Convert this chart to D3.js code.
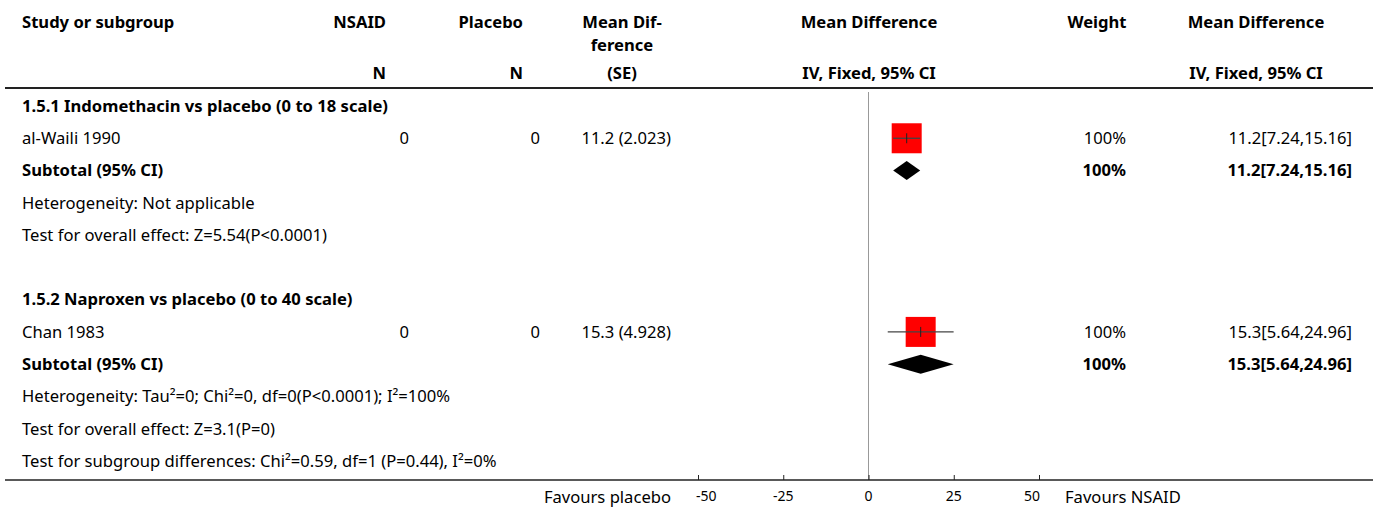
<!DOCTYPE html>
<html>
<head>
<meta charset="utf-8">
<script src="https://cdn.jsdelivr.net/npm/d3@7/dist/d3.min.js"></script>
<style>
  html, body { margin: 0; padding: 0; background: #fff; }
  svg text { font-family: "Source Sans Pro", "Noto Sans", sans-serif; font-size: 16.6px; fill: #000; }
  .b { font-weight: bold; }
  .tick-label { font-size: 14px; }
</style>
</head>
<body>
<svg id="chart" width="1373" height="510"></svg>
<script>
// Forest plot: NSAID vs placebo, mean difference (IV, fixed, 95% CI)
const subgroups = ["1.5.1 Indomethacin vs placebo (0 to 18 scale)", "1.5.2 Naproxen vs placebo (0 to 40 scale)"];
const studies = ["al-Waili 1990", "Chan 1983"];
const nNsaid = [0, 0];
const nPlacebo = [0, 0];
const meanDiff = [11.2, 15.3];
const stdErr = [2.023, 4.928];
const ciLow = [7.24, 5.64];
const ciHigh = [15.16, 24.96];
const weights = [100, 100];
const subtotalMean = [11.2, 15.3];
const subtotalLow = [7.24, 5.64];
const subtotalHigh = [15.16, 24.96];
const subtotalWeight = [100, 100];
const heterogeneity = ["Heterogeneity: Not applicable", "Heterogeneity: Tau\u00b2=0; Chi\u00b2=0, df=0(P<0.0001); I\u00b2=100%"];
const overallEffect = ["Test for overall effect: Z=5.54(P<0.0001)", "Test for overall effect: Z=3.1(P=0)"];
const subgroupTest = "Test for subgroup differences: Chi\u00b2=0.59, df=1 (P=0.44), I\u00b2=0%";
const axisTicks = [-50, -25, 0, 25, 50];

const svg = d3.select("#chart");
const W = 1373;

// effect scale and row scale
const x = d3.scaleLinear().domain([-50, 50]).range([698, 1039]);
const row = d3.scaleLinear().domain([0, 11]).range([106, 461]);

const col = { study: 22, nA: 409, nB: 540, md: 671, weight: 1126, ci: 1352 };

function txt(xp, yp, s, anchor, bold) {
  return svg.append("text")
    .attr("x", xp).attr("y", yp).attr("dy", "0.35em")
    .attr("text-anchor", anchor || "start")
    .classed("b", !!bold)
    .text(s);
}

// header
txt(22, 22, "Study or subgroup", "start", true);
txt(386, 22, "NSAID", "end", true);
txt(523, 22, "Placebo", "end", true);
txt(622, 22, "Mean Dif-", "middle", true);
txt(622, 45, "ference", "middle", true);
txt(869, 22, "Mean Difference", "middle", true);
txt(1097, 22, "Weight", "middle", true);
txt(1256, 22, "Mean Difference", "middle", true);
txt(386, 73, "N", "end", true);
txt(523, 73, "N", "end", true);
txt(622, 73, "(SE)", "middle", true);
txt(869, 73, "IV, Fixed, 95% CI", "middle", true);
txt(1256, 73, "IV, Fixed, 95% CI", "middle", true);

svg.append("line").attr("x1", 5).attr("x2", W).attr("y1", 88).attr("y2", 88)
  .attr("stroke", "#222").attr("stroke-width", 2);

// zero line
svg.append("line").attr("x1", x(0)).attr("x2", x(0)).attr("y1", 92).attr("y2", 480)
  .attr("stroke", "#999").attr("stroke-width", 1);

const fmtCI = (m, l, h) => `${m}[${l},${h}]`;

subgroups.forEach((g, i) => {
  const base = i * 6;
  txt(col.study, row(base), g, "start", true);
  // study row
  const ys = row(base + 1);
  txt(col.study, ys, studies[i]);
  txt(col.nA, ys, nNsaid[i], "end");
  txt(col.nB, ys, nPlacebo[i], "end");
  txt(col.md, ys, `${meanDiff[i]} (${stdErr[i].toFixed(3)})`, "end");
  txt(col.weight, ys, weights[i] + "%", "end");
  txt(col.ci, ys, fmtCI(meanDiff[i], ciLow[i], ciHigh[i]), "end");
  const box = 30 * Math.sqrt(weights[i] / 100);
  svg.append("rect")
    .attr("x", x(meanDiff[i]) - box / 2).attr("y", ys - box / 2)
    .attr("width", box).attr("height", box).attr("fill", "#ff0000");
  svg.append("line").attr("x1", x(ciLow[i])).attr("x2", x(ciHigh[i]))
    .attr("y1", ys).attr("y2", ys).attr("stroke", "#444").attr("stroke-width", 1.3);
  svg.append("line").attr("x1", x(meanDiff[i])).attr("x2", x(meanDiff[i]))
    .attr("y1", ys - 5).attr("y2", ys + 5).attr("stroke", "#222").attr("stroke-width", 1);

  // subtotal row
  const yt = row(base + 2);
  txt(col.study, yt, "Subtotal (95% CI)", "start", true);
  txt(col.weight, yt, subtotalWeight[i] + "%", "end", true);
  txt(col.ci, yt, fmtCI(subtotalMean[i], subtotalLow[i], subtotalHigh[i]), "end", true);
  const hh = 9.5;
  svg.append("path")
    .attr("d", `M${x(subtotalLow[i])},${yt} L${x(subtotalMean[i])},${yt - hh} L${x(subtotalHigh[i])},${yt} L${x(subtotalMean[i])},${yt + hh} Z`)
    .attr("fill", "#000");

  txt(col.study, row(base + 3), heterogeneity[i]);
  txt(col.study, row(base + 4), overallEffect[i]);
});
txt(col.study, row(11), subgroupTest);

// bottom axis
const axisY = 480;
svg.append("line").attr("x1", 5).attr("x2", W).attr("y1", axisY).attr("y2", axisY)
  .attr("stroke", "#222").attr("stroke-width", 1.5);
const axis = d3.axisTop(x).tickValues(axisTicks).tickSize(5).tickPadding(0).tickFormat(d3.format("d"));
const ag = svg.append("g").attr("transform", `translate(0,${axisY})`).call(axis);
ag.select(".domain").remove();
ag.selectAll(".tick line").attr("stroke", "#222");
ag.selectAll(".tick text").remove();
// end labels sit inside the axis extent
const last = axisTicks.length - 1;
axisTicks.forEach((t, i) => {
  const anchor = i === 0 ? "start" : (i === last ? "end" : "middle");
  const off = i === 0 ? -2 : (i === last ? 1 : 0);
  svg.append("text").attr("class", "tick-label").attr("x", x(t) + off).attr("y", 496).attr("dy", "0.35em")
    .attr("text-anchor", anchor).text(t);
});
txt(671, 497, "Favours placebo", "end");
txt(1065, 497, "Favours NSAID", "start");
</script>
</body>
</html>
